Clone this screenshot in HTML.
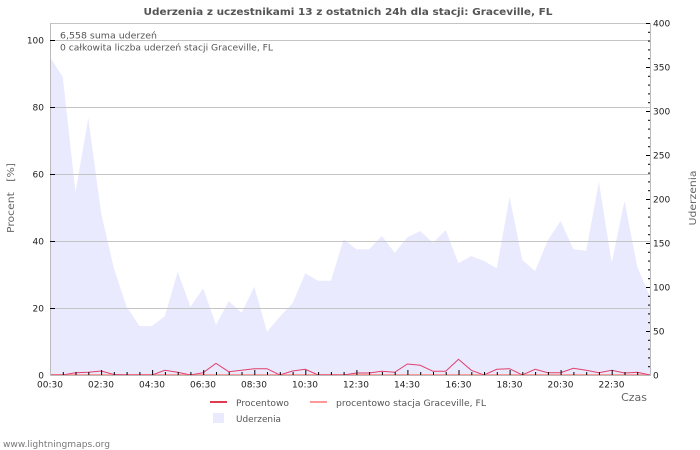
<!DOCTYPE html>
<html>
<head>
<meta charset="utf-8">
<style>
html,body{margin:0;padding:0;background:#fff;}
svg{display:block;}
text{font-family:"DejaVu Sans","Liberation Sans",sans-serif;}
</style>
</head>
<body>
<svg width="700" height="450" viewBox="0 0 700 450" xmlns="http://www.w3.org/2000/svg">
<rect width="700" height="450" fill="#fff"/>
<!-- title -->
<text x="348" y="15" font-size="10" font-weight="bold" fill="#555" text-anchor="middle" textLength="409" lengthAdjust="spacingAndGlyphs">Uderzenia z uczestnikami 13 z ostatnich 24h dla stacji: Graceville, FL</text>

<!-- area -->
<polygon fill="#eaeaff" points="50,375 50,57 62.8,77 75.5,192 88.3,118 101.1,213 113.8,268 126.6,306.7 139.4,326 152.1,326 164.9,316 177.7,271.7 190.4,306.7 203.2,288.3 216,325 228.7,301 241.5,312.7 254.3,286.7 267,331.7 279.8,316.7 292.6,303.3 305.3,273.3 318.1,280.7 330.9,280.7 343.6,239.3 356.4,249.3 369.1,249.3 381.9,236 394.7,252.7 407.4,237.3 420.2,231 433,242.7 445.7,230 458.5,263.3 471.3,256 484,261 496.8,268.3 509.6,196.7 522.3,260 535.1,271 547.9,240 560.6,221 573.4,249.3 586.2,250.7 598.9,181.7 611.7,262.7 624.5,200.7 637.2,266.7 650,296.7 650,375"/>

<!-- gridlines -->
<g stroke="#c4c4c4" stroke-width="1">
<line x1="50" y1="23.5" x2="650" y2="23.5"/>
<line x1="50" y1="40.5" x2="650" y2="40.5"/>
<line x1="50" y1="107.5" x2="650" y2="107.5"/>
<line x1="50" y1="174.5" x2="650" y2="174.5"/>
<line x1="50" y1="241.5" x2="650" y2="241.5"/>
<line x1="50" y1="308.5" x2="650" y2="308.5"/>
</g>

<!-- info text -->
<text x="60" y="38.5" font-size="9" fill="#555" textLength="97" lengthAdjust="spacingAndGlyphs">6,558 suma uderzeń</text>
<text x="60" y="50.5" font-size="9" fill="#555" textLength="213" lengthAdjust="spacingAndGlyphs">0 całkowita liczba uderzeń stacji Graceville, FL</text>

<!-- station line -->
<line x1="50" y1="374.5" x2="650" y2="374.5" stroke="#ff9999" stroke-width="1"/>
<!-- percent line -->
<polyline fill="none" stroke="#e0406a" stroke-width="1" points="50,375 62.8,375 75.5,372.7 88.3,372.3 101.1,371 113.8,374.5 126.6,375 139.4,375 152.1,375 164.9,370.3 177.7,372.3 190.4,375 203.2,372.7 216,363.3 228.7,371.7 241.5,370.3 254.3,368.7 267,368.7 279.8,375 292.6,371 305.3,369.3 318.1,375 330.9,375 343.6,375 356.4,373 369.1,373 381.9,371.3 394.7,372.3 407.4,364 420.2,365.3 433,371.3 445.7,371.3 458.5,359.3 471.3,370.3 484,375 496.8,369.3 509.6,368.7 522.3,375 535.1,369.3 547.9,372.7 560.6,372.7 573.4,368.3 586.2,370.3 598.9,372.7 611.7,370.3 624.5,373 637.2,372.3 650,375"/>

<!-- axes -->
<g stroke="#bbb" stroke-width="1">
<line x1="50.5" y1="23" x2="50.5" y2="375.5"/>
<line x1="650.5" y1="23" x2="650.5" y2="375.5"/>
<line x1="50" y1="375.5" x2="651" y2="375.5"/>
</g>

<!-- left ticks -->
<g stroke="#000" stroke-width="1">
<line x1="50" y1="40.5" x2="55" y2="40.5"/>
<line x1="50" y1="107.5" x2="55" y2="107.5"/>
<line x1="50" y1="174.5" x2="55" y2="174.5"/>
<line x1="50" y1="241.5" x2="55" y2="241.5"/>
<line x1="50" y1="308.5" x2="55" y2="308.5"/>
</g>
<g font-size="9" fill="#222" text-anchor="end">
<text x="44" y="43.5">100</text>
<text x="44" y="110.5">80</text>
<text x="44" y="177.5">60</text>
<text x="44" y="244.5">40</text>
<text x="44" y="311.5">20</text>
<text x="44" y="378.5">0</text>
</g>

<!-- right ticks -->
<g stroke="#000" stroke-width="1">
<line x1="646" y1="23.5" x2="650" y2="23.5"/>
<line x1="648" y1="32.3" x2="650" y2="32.3"/>
<line x1="648" y1="41.1" x2="650" y2="41.1"/>
<line x1="648" y1="49.9" x2="650" y2="49.9"/>
<line x1="648" y1="58.7" x2="650" y2="58.7"/>
<line x1="646" y1="67.5" x2="650" y2="67.5"/>
<line x1="648" y1="76.3" x2="650" y2="76.3"/>
<line x1="648" y1="85.1" x2="650" y2="85.1"/>
<line x1="648" y1="93.9" x2="650" y2="93.9"/>
<line x1="648" y1="102.7" x2="650" y2="102.7"/>
<line x1="646" y1="111.5" x2="650" y2="111.5"/>
<line x1="648" y1="120.3" x2="650" y2="120.3"/>
<line x1="648" y1="129.1" x2="650" y2="129.1"/>
<line x1="648" y1="137.9" x2="650" y2="137.9"/>
<line x1="648" y1="146.7" x2="650" y2="146.7"/>
<line x1="646" y1="155.5" x2="650" y2="155.5"/>
<line x1="648" y1="164.3" x2="650" y2="164.3"/>
<line x1="648" y1="173.1" x2="650" y2="173.1"/>
<line x1="648" y1="181.9" x2="650" y2="181.9"/>
<line x1="648" y1="190.7" x2="650" y2="190.7"/>
<line x1="646" y1="199.5" x2="650" y2="199.5"/>
<line x1="648" y1="208.3" x2="650" y2="208.3"/>
<line x1="648" y1="217.1" x2="650" y2="217.1"/>
<line x1="648" y1="225.9" x2="650" y2="225.9"/>
<line x1="648" y1="234.7" x2="650" y2="234.7"/>
<line x1="646" y1="243.5" x2="650" y2="243.5"/>
<line x1="648" y1="252.3" x2="650" y2="252.3"/>
<line x1="648" y1="261.1" x2="650" y2="261.1"/>
<line x1="648" y1="269.9" x2="650" y2="269.9"/>
<line x1="648" y1="278.7" x2="650" y2="278.7"/>
<line x1="646" y1="287.5" x2="650" y2="287.5"/>
<line x1="648" y1="296.3" x2="650" y2="296.3"/>
<line x1="648" y1="305.1" x2="650" y2="305.1"/>
<line x1="648" y1="313.9" x2="650" y2="313.9"/>
<line x1="648" y1="322.7" x2="650" y2="322.7"/>
<line x1="646" y1="331.5" x2="650" y2="331.5"/>
<line x1="648" y1="340.3" x2="650" y2="340.3"/>
<line x1="648" y1="349.1" x2="650" y2="349.1"/>
<line x1="648" y1="357.9" x2="650" y2="357.9"/>
<line x1="648" y1="366.7" x2="650" y2="366.7"/>
</g>
<g font-size="9" fill="#222">
<text x="653" y="26.5">400</text>
<text x="653" y="70.5">350</text>
<text x="653" y="114.5">300</text>
<text x="653" y="158.5">250</text>
<text x="653" y="202.5">200</text>
<text x="653" y="246.5">150</text>
<text x="653" y="290.5">100</text>
<text x="653" y="334.5">50</text>
<text x="653" y="378.5">0</text>
</g>

<!-- x ticks -->
<g stroke="#000" stroke-width="1">
<line x1="63.3" y1="372" x2="63.3" y2="375"/>
<line x1="76" y1="372" x2="76" y2="375"/>
<line x1="88.8" y1="372" x2="88.8" y2="375"/>
<line x1="101.6" y1="370" x2="101.6" y2="375"/>
<line x1="114.3" y1="372" x2="114.3" y2="375"/>
<line x1="127.1" y1="372" x2="127.1" y2="375"/>
<line x1="139.9" y1="372" x2="139.9" y2="375"/>
<line x1="152.6" y1="370" x2="152.6" y2="375"/>
<line x1="165.4" y1="372" x2="165.4" y2="375"/>
<line x1="178.2" y1="372" x2="178.2" y2="375"/>
<line x1="190.9" y1="372" x2="190.9" y2="375"/>
<line x1="203.7" y1="370" x2="203.7" y2="375"/>
<line x1="216.5" y1="372" x2="216.5" y2="375"/>
<line x1="229.2" y1="372" x2="229.2" y2="375"/>
<line x1="242" y1="372" x2="242" y2="375"/>
<line x1="254.8" y1="370" x2="254.8" y2="375"/>
<line x1="267.5" y1="372" x2="267.5" y2="375"/>
<line x1="280.3" y1="372" x2="280.3" y2="375"/>
<line x1="293.1" y1="372" x2="293.1" y2="375"/>
<line x1="305.8" y1="370" x2="305.8" y2="375"/>
<line x1="318.6" y1="372" x2="318.6" y2="375"/>
<line x1="331.4" y1="372" x2="331.4" y2="375"/>
<line x1="344.1" y1="372" x2="344.1" y2="375"/>
<line x1="356.9" y1="370" x2="356.9" y2="375"/>
<line x1="369.6" y1="372" x2="369.6" y2="375"/>
<line x1="382.4" y1="372" x2="382.4" y2="375"/>
<line x1="395.2" y1="372" x2="395.2" y2="375"/>
<line x1="407.9" y1="370" x2="407.9" y2="375"/>
<line x1="420.7" y1="372" x2="420.7" y2="375"/>
<line x1="433.5" y1="372" x2="433.5" y2="375"/>
<line x1="446.2" y1="372" x2="446.2" y2="375"/>
<line x1="459" y1="370" x2="459" y2="375"/>
<line x1="471.8" y1="372" x2="471.8" y2="375"/>
<line x1="484.5" y1="372" x2="484.5" y2="375"/>
<line x1="497.3" y1="372" x2="497.3" y2="375"/>
<line x1="510.1" y1="370" x2="510.1" y2="375"/>
<line x1="522.8" y1="372" x2="522.8" y2="375"/>
<line x1="535.6" y1="372" x2="535.6" y2="375"/>
<line x1="548.4" y1="372" x2="548.4" y2="375"/>
<line x1="561.1" y1="370" x2="561.1" y2="375"/>
<line x1="573.9" y1="372" x2="573.9" y2="375"/>
<line x1="586.7" y1="372" x2="586.7" y2="375"/>
<line x1="599.4" y1="372" x2="599.4" y2="375"/>
<line x1="612.2" y1="370" x2="612.2" y2="375"/>
<line x1="625" y1="372" x2="625" y2="375"/>
<line x1="637.7" y1="372" x2="637.7" y2="375"/>
</g>
<g font-size="9" fill="#222" text-anchor="middle">
<text x="50" y="387.5">00:30</text>
<text x="101" y="387.5">02:30</text>
<text x="152" y="387.5">04:30</text>
<text x="203" y="387.5">06:30</text>
<text x="254" y="387.5">08:30</text>
<text x="305" y="387.5">10:30</text>
<text x="356" y="387.5">12:30</text>
<text x="407" y="387.5">14:30</text>
<text x="458.5" y="387.5">16:30</text>
<text x="509.5" y="387.5">18:30</text>
<text x="560.5" y="387.5">20:30</text>
<text x="611.5" y="387.5">22:30</text>
</g>

<!-- axis titles -->
<text x="647" y="401" font-size="11" fill="#666" text-anchor="end">Czas</text>
<text transform="translate(14,198) rotate(-90)" font-size="10" fill="#666" text-anchor="middle" textLength="70" lengthAdjust="spacingAndGlyphs">Procent&#160;&#160;&#160;[%]</text>
<text transform="translate(696,198) rotate(-90)" font-size="10" fill="#666" text-anchor="middle" textLength="55" lengthAdjust="spacingAndGlyphs">Uderzenia</text>

<!-- legend -->
<line x1="210" y1="402" x2="227" y2="402" stroke="#e03a50" stroke-width="2"/>
<text x="236" y="406" font-size="9" fill="#555" textLength="53" lengthAdjust="spacingAndGlyphs">Procentowo</text>
<line x1="310" y1="402" x2="327" y2="402" stroke="#ff9999" stroke-width="2"/>
<text x="336" y="406" font-size="9" fill="#555" textLength="150" lengthAdjust="spacingAndGlyphs">procentowo stacja Graceville, FL</text>
<rect x="213" y="413" width="11" height="10" fill="#eaeaff"/>
<text x="236" y="422" font-size="9" fill="#555" textLength="45" lengthAdjust="spacingAndGlyphs">Uderzenia</text>

<!-- watermark -->
<text x="3" y="447" font-size="9" fill="#777" textLength="107" lengthAdjust="spacingAndGlyphs">www.lightningmaps.org</text>
</svg>
</body>
</html>
